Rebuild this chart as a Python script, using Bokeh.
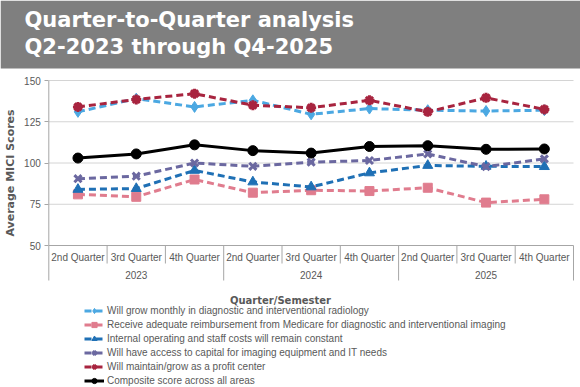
import math
from bokeh.plotting import figure
from bokeh.models import Range1d, FixedTicker, Label, Legend, LegendItem, ColumnDataSource
from bokeh.embed import file_html
from bokeh.resources import INLINE
from bokeh.core.properties import value

# ---------------- data ----------------
years = ["2023", "2024", "2025"]
quarters = ["2nd Quarter", "3rd Quarter", "4th Quarter"]
series_names = [
    "Will grow monthly in diagnostic and interventional radiology",
    "Receive adequate reimbursement from Medicare for diagnostic and interventional imaging",
    "Internal operating and staff costs will remain constant",
    "Will have access to capital for imaging equipment and IT needs",
    "Will maintain/grow as a profit center",
    "Composite score across all areas",
]
grow = [131, 139, 134, 138, 129.5, 133, 132, 131.5, 132]
reimbursement = [81, 79.5, 90, 82, 83.5, 83, 85, 76, 78]
internal_costs = [84, 84.5, 95.5, 88.5, 85.5, 94, 98.5, 98, 97.8]
capital = [90.5, 92, 100, 98, 100.5, 101.5, 105.5, 97.8, 102.5]
profit_center = [134, 138.5, 142, 135, 133.5, 138, 131, 139.5, 132.5]
composite = [103, 105.5, 111, 107.5, 106, 110, 110.5, 108.3, 108.5]
y_ticks = [50, 75, 100, 125, 150]
title_lines = ["Quarter-to-Quarter analysis", "Q2-2023 through Q4-2025"]

# ---------------- styling / layout ----------------
colors = ["#4BA8E2", "#E07C8E", "#1F70B5", "#6B68A0", "#A8243F", "#000000"]
markers = ["diamond", "square", "triangle", "x", "asterisk", "circle"]
msizes = [11, 9, 10, 10, 10, 10]
TXT = "#595959"
AXC = "#a6a6a6"
GRID = "#d4d4d4"
FONT = "Liberation Sans"
BOLD_FONT = "DejaVu Sans"

W, H = 580, 387
X0_PX = 48.3        # canvas x of category axis start
CAT_PX = 58.3       # pixels per category
YTOP_PX = 80        # canvas y of top tick
PPU = 165 / (y_ticks[-1] - y_ticks[0])   # pixels per value unit
BAND_PX = 68        # height of title band

def dx(canvas_x):
    return (canvas_x - X0_PX) / CAT_PX

def dy(canvas_y):
    return y_ticks[-1] - (canvas_y - YTOP_PX) / PPU

n = len(grow)
xs = [i + 0.5 for i in range(n)]

p = figure(width=W, height=H, toolbar_location=None, output_backend="svg", title=None,
           x_axis_location=None, min_border=0, outline_line_color=None,
           x_range=Range1d(dx(0), dx(W)), y_range=Range1d(dy(H), dy(0)))
p.xgrid.visible = False
p.ygrid.visible = False

# title band
p.quad(left=[dx(0)], right=[dx(W)], bottom=[dy(BAND_PX)], top=[dy(0)],
       fill_color="#7f7f7f", line_color=None)
for txt, cy in zip(title_lines, [19, 46]):
    p.add_layout(Label(x=24, y=H - cy, x_units="screen", y_units="screen", text=txt,
                       text_font=BOLD_FONT, text_font_style="bold", text_font_size="21px",
                       text_color="white", text_baseline="middle", text_align="left"))

# y axis fixed at category start
ax = p.yaxis[0]
ax.fixed_location = 0
ax.ticker = FixedTicker(ticks=y_ticks)
ax.axis_line_color = None
ax.major_tick_line_color = AXC
ax.major_tick_out = 4
ax.major_tick_in = 0
ax.minor_tick_out = 0
ax.minor_tick_in = 0
ax.major_label_text_font = FONT
ax.major_label_text_font_size = "10px"
ax.major_label_text_color = TXT
ax.major_label_standoff = 4

# gridlines
base = y_ticks[0]
p.segment(x0=[0] * (len(y_ticks) - 1), x1=[n] * (len(y_ticks) - 1), y0=y_ticks[1:], y1=y_ticks[1:],
          line_color=GRID, line_width=1)
# axis lines & separators
p.segment(x0=[0, 0], y0=[y_ticks[-1], base], x1=[0, n], y1=[base, base], line_color=AXC, line_width=1)
long_sep = [i * len(quarters) for i in range(len(years) + 1)]
short_sep = [i for i in range(n + 1) if i not in long_sep]
p.segment(x0=long_sep, x1=long_sep, y0=[base] * len(long_sep), y1=[base - 35 / PPU] * len(long_sep),
          line_color=AXC, line_width=1)
p.segment(x0=short_sep, x1=short_sep, y0=[base] * len(short_sep), y1=[base - 18 / PPU] * len(short_sep),
          line_color=AXC, line_width=1)

# category labels
q_labels = quarters * len(years)
p.text(x=xs, y=[base] * n, text=q_labels, y_offset=12, text_align="center", text_baseline="middle",
       text_font=value(FONT), text_font_size="10px", text_color=TXT)
yc = [i * len(quarters) + len(quarters) / 2 for i in range(len(years))]
p.text(x=yc, y=[base] * len(years), text=years, y_offset=29, text_align="center", text_baseline="middle",
       text_font=value(FONT), text_font_size="10px", text_color=TXT)

# series
all_series = [grow, reimbursement, internal_costs, capital, profit_center, composite]
items = []
for k, (vals, name) in enumerate(zip(all_series, series_names)):
    src = ColumnDataSource(dict(x=xs, y=vals))
    if k < 5:
        ln = p.line("x", "y", source=src, line_color=colors[k], line_width=3, line_dash="7 4")
    else:
        ln = p.line("x", "y", source=src, line_color=colors[k], line_width=3)
    if markers[k] in ("x", "asterisk"):
        mk = p.scatter("x", "y", source=src, marker=markers[k], size=msizes[k],
                       line_color=colors[k], line_width=3, fill_color=colors[k])
    else:
        mk = p.scatter("x", "y", source=src, marker=markers[k], size=msizes[k],
                       line_color=colors[k], fill_color=colors[k])
    items.append(LegendItem(label=name, renderers=[ln, mk]))

legend = Legend(items=items, location=(84, 0), padding=0, margin=0, spacing=1,
                glyph_width=20, glyph_height=13, label_height=13, label_standoff=3,
                label_text_font=FONT, label_text_font_size="10px", label_text_color=TXT,
                border_line_color=None, background_fill_alpha=0)
p.add_layout(legend, "center")

# axis titles
p.add_layout(Label(x=10, y=H - 172.5, x_units="screen", y_units="screen", text="Average MICI Scores",
                   angle=math.pi / 2, text_align="center", text_baseline="middle",
                   text_font=BOLD_FONT, text_font_style="bold", text_font_size="11px", text_color=TXT))
p.add_layout(Label(x=280, y=H - 300, x_units="screen", y_units="screen", text="Quarter/Semester",
                   text_align="center", text_baseline="middle",
                   text_font=BOLD_FONT, text_font_style="bold", text_font_size="10px", text_color=TXT))

open("out.html", "w").write(file_html(p, INLINE))
